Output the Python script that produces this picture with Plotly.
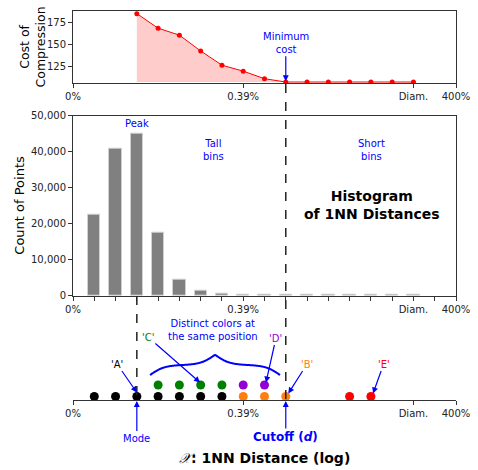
import numpy as np
import plotly.graph_objects as go

# ---------------- data ----------------
tick_pos = [0, 8, 16, 18]
tick_labels = ["0%", "0.39%", "Diam.", "400%"]

cost_x = [3, 4, 5, 6, 7, 8, 9, 10, 11, 12, 13, 14, 15, 16]
cost_y = [185.2, 168.6, 160.7, 142.7, 126.5, 119.7, 111.1, 107.3, 107.3, 107.3, 107.3, 107.3, 107.3, 107.3]

hist_x = [1, 2, 3, 4, 5, 6, 7, 8, 9, 10, 11, 12, 13, 14, 15, 16]
hist_counts = [22500, 40800, 44900, 17500, 4500, 1400, 550, 300, 250, 250, 220, 200, 200, 200, 200, 200]

black_x = [1, 2, 3, 4, 5, 6, 7]
orange_x = [8, 9, 10]
red_x = [13, 14]
green_x = [4, 5, 6, 7]
purple_x = [8, 9]

mode_x = 3
cutoff_x = 10

# ---------------- layout helpers ----------------
XD = [73 / 478, 456 / 478]
H = 470.0
W = 478.0
def py(px):
    return 1 - px / H
def pxx(px):
    return px / W

FONT = "DejaVu Sans"
BLUE = "blue"

fig = go.Figure()

# top panel: cost of compression
base = min(cost_y)
fig.add_trace(go.Scatter(x=cost_x, y=[base] * len(cost_x), mode="lines",
                         line=dict(width=0, color="rgba(0,0,0,0)"),
                         xaxis="x", yaxis="y", showlegend=False, hoverinfo="skip"))
fig.add_trace(go.Scatter(x=cost_x, y=cost_y, mode="lines+markers",
                         fill="tonexty", fillcolor="rgba(255,0,0,0.2)",
                         line=dict(color="red", width=1),
                         marker=dict(color="red", size=5),
                         xaxis="x", yaxis="y", showlegend=False))

# histogram
fig.add_trace(go.Bar(x=hist_x, y=hist_counts, width=0.58,
                     marker=dict(color="#808080", line=dict(color="#d0d0d0", width=1)),
                     xaxis="x2", yaxis="y2", showlegend=False))

# dots
row0, row1 = 0.35, 1.5
for xs, col, row in [(black_x, "black", row0), (orange_x, "#ff7f0e", row0),
                     (red_x, "red", row0), (green_x, "green", row1),
                     (purple_x, "#9400d3", row1)]:
    fig.add_trace(go.Scatter(x=xs, y=[row] * len(xs), mode="markers",
                             marker=dict(color=col, size=9),
                             xaxis="x3", yaxis="y3", showlegend=False, cliponaxis=False))

# curly brace (annotation)
bx0, bx1 = 3.62, 9.73
t = np.linspace(0, 1, 200)
half = t[:100]
beta = 9.0
yh = 1 / (1 + np.exp(-beta * (half - half[0]) * 2)) + 1 / (1 + np.exp(-beta * (half - half[-1]) * 2))
ybr = np.concatenate([yh, yh[::-1]])
xbr = bx0 + (bx1 - bx0) * t
fig.add_trace(go.Scatter(x=xbr, y=1.5 + 2.0 * ybr, mode="lines",
                         line=dict(color="blue", width=2, shape="spline"),
                         xaxis="x3", yaxis="y3", showlegend=False, hoverinfo="skip", cliponaxis=False))

axis_common = dict(range=[0, 18], showgrid=False, zeroline=False, automargin=False,
                   tickfont=dict(family=FONT, size=10, color="#222"),
                   ticks="outside", ticklen=4, tickcolor="#333", linecolor="#333", linewidth=1)

fig.update_layout(
    width=478, height=470, margin=dict(l=0, r=0, t=0, b=0, pad=0),
    paper_bgcolor="white", plot_bgcolor="white",
    font=dict(family=FONT, color="black"),
    bargap=0,
    xaxis=dict(domain=XD, anchor="y", tickvals=tick_pos, ticktext=tick_labels,
               showline=True, mirror=True, **axis_common),
    yaxis=dict(domain=[py(83), py(11)], anchor="x", range=[106.2, 188.2], automargin=False,
               tickvals=[125, 150, 175], showgrid=False, zeroline=False,
               showline=True, mirror=True, linecolor="#333", ticks="outside",
               ticklen=4, tickcolor="#333",
               tickfont=dict(family=FONT, size=10, color="#222")),
    xaxis2=dict(domain=XD, anchor="y2",
                tickvals=list(range(0, 19)),
                ticktext=[tick_labels[tick_pos.index(i)] if i in tick_pos else "" for i in range(0, 19)],
                showline=True, mirror=True, **axis_common),
    yaxis2=dict(domain=[py(295.7), py(115.7)], anchor="x2", range=[0, 50000], automargin=False,
                tickvals=[0, 10000, 20000, 30000, 40000, 50000], tickformat=",",
                showgrid=False, zeroline=False, showline=True, mirror=True,
                linecolor="#333", ticks="outside", ticklen=4, tickcolor="#333",
                tickfont=dict(family=FONT, size=10, color="#222")),
    xaxis3=dict(domain=XD, anchor="y3", tickvals=tick_pos, ticktext=tick_labels,
                showline=True, mirror=False, **axis_common),
    yaxis3=dict(domain=[py(400), py(310)], anchor="x3", range=[0, 9], automargin=False,
                visible=False, showgrid=False, zeroline=False),
)

# dashed guide lines
fig.add_shape(type="line", xref="x2", yref="paper", x0=cutoff_x, x1=cutoff_x,
              y0=py(84), y1=py(399), line=dict(color="#222", width=1.5, dash="dash"))
fig.add_shape(type="line", xref="x2", yref="paper", x0=mode_x, x1=mode_x,
              y0=py(296), y1=py(399), line=dict(color="#222", width=1.5, dash="dash"))

ann = []
def txt(x, y, text, xref, yref, color=BLUE, size=10, bold=False, angle=0):
    if bold:
        text = "<b>" + text + "</b>"
    ann.append(dict(x=x, y=y, xref=xref, yref=yref, text=text, showarrow=False,
                    xanchor="center", yanchor="middle", textangle=angle,
                    font=dict(family=FONT, size=size, color=color), align="center"))

def arrow(x, y, ax, ay, text, xref, yref, axref=None, ayref=None, color=BLUE, size=10):
    ann.append(dict(x=x, y=y, ax=ax, ay=ay, xref=xref, yref=yref,
                    axref=axref or xref, ayref=ayref or yref,
                    text=text, showarrow=True, arrowhead=2, arrowsize=1, arrowwidth=1.2,
                    arrowcolor=BLUE, font=dict(family=FONT, size=size, color=color),
                    xanchor="center", yanchor="middle", align="center"))

# axis titles
txt(pxx(32.5), py(47), "Cost of<br>Compression", "paper", "paper", color="black", size=12.5, angle=-90)
txt(pxx(20), py(205.7), "Count of Points", "paper", "paper", color="black", size=13, angle=-90)
# top panel
arrow(cutoff_x, 108.3, cutoff_x, 152, "Minimum<br>cost", "x", "y")
# histogram panel
txt(3, py(124), "Peak", "x2", "paper")
txt(6.6, py(150.5), "Tall<br>bins", "x2", "paper")
txt(14.05, py(150.5), "Short<br>bins", "x2", "paper")
txt(14.05, py(205), "Histogram<br>of 1NN Distances", "x2", "paper", color="black", size=14, bold=True)
# dot panel
arrow(3, 0.75, 2.07, 3.6, "'A'", "x3", "y3", color="black")
arrow(5.97, 1.75, 3.52, 6.3, "'C'", "x3", "y3", color="green")
arrow(9.07, 1.75, 9.54, 6.2, "'D'", "x3", "y3", color="#9400d3")
arrow(10.12, 0.65, 11.0, 3.6, "'B'", "x3", "y3", color="#ff7f0e")
arrow(14.1, 0.65, 14.6, 3.6, "'E'", "x3", "y3", color="red")
txt(6.6, 7.05, "Distinct colors at<br>the same position", "x3", "y3")
arrow(mode_x, py(401), 0, 37, "Mode", "x3", "paper", axref="pixel", ayref="pixel")
arrow(cutoff_x, py(401), 0, 36, "<b>Cutoff (<i>d</i>)</b>", "x3", "paper",
      axref="pixel", ayref="pixel", size=12)
# x-axis title
txt(0.5 * (XD[0] + XD[1]), py(458), "<i>𝒳</i><b>: 1NN Distance (log)</b>", "paper", "paper",
    color="black", size=14)

fig.update_layout(annotations=ann)
fig.write_html("out.html")
